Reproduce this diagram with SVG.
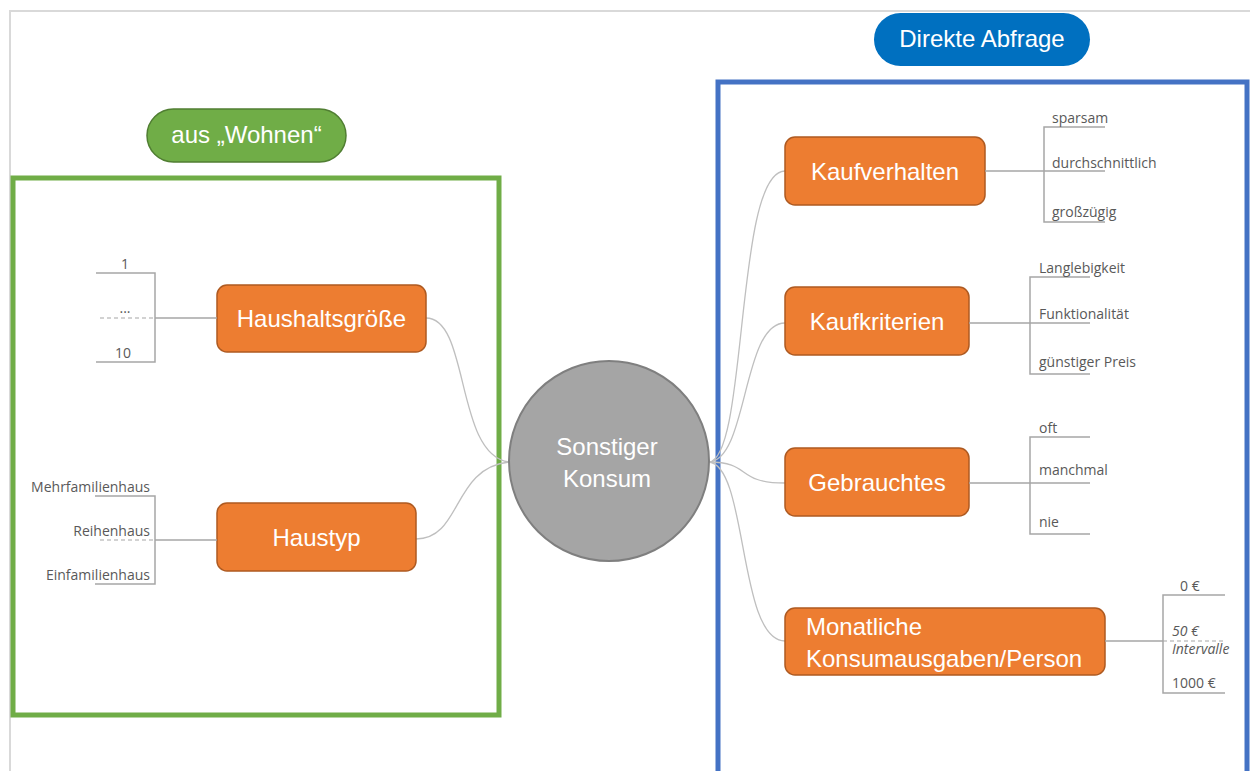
<svg xmlns="http://www.w3.org/2000/svg" width="1250" height="771" viewBox="0 0 1250 771">
<style>
.node rect{fill:#ed7d31;stroke:#ae5a21;stroke-width:1.5}
.nt{font-family:"Liberation Sans",Arial,sans-serif;font-size:24px;fill:#ffffff}
.lb{font-family:"Open Sans","Liberation Sans",sans-serif;font-size:14px;fill:#595959}
.br{stroke:#a6a6a6;stroke-width:1.5;fill:none}
.dash{stroke:#a6a6a6;stroke-width:1.2;stroke-dasharray:4 3;fill:none}
.con path{stroke:#bfbfbf;stroke-width:1.3;fill:none}
</style>
<rect width="1250" height="771" fill="#ffffff"/>
<path d="M10,771 L10,11 L1250,11" fill="none" stroke="#d9d9d9" stroke-width="2"/>
<rect x="13" y="178" width="486" height="537" fill="none" stroke="#70ad47" stroke-width="5"/>
<rect x="718" y="82" width="529" height="700" fill="none" stroke="#4472c4" stroke-width="5"/>

<g id="pill-wohnen">
<rect x="147" y="109" width="199" height="53" rx="26.5" fill="#70ad47" stroke="#507e32" stroke-width="1.5"/>
<text class="nt" x="246.5" y="143" text-anchor="middle" font-size="22">aus „Wohnen“</text>
</g>
<g id="pill-direkt">
<rect x="874" y="13" width="216" height="53" rx="26.5" fill="#0070c0"/>
<text class="nt" x="982" y="47" text-anchor="middle" font-size="22">Direkte Abfrage</text>
</g>

<g class="con" id="connectors">
<path d="M426,318 C470,318 455,455 509,462"/>
<path d="M416,539 C462,539 452,468 509,462"/>
<path d="M709,462 C748,458 735,171 785,171"/>
<path d="M709,462 C748,460 742,323 785,323"/>
<path d="M709,462 C752,462 735,483 785,483"/>
<path d="M709,462 C748,466 738,641 785,641"/>
</g>

<g id="center">
<circle cx="609" cy="461" r="100" fill="#a5a5a5" stroke="#7f7f7f" stroke-width="2"/>
<text class="nt" x="607" y="455" text-anchor="middle">Sonstiger</text>
<text class="nt" x="607" y="487" text-anchor="middle">Konsum</text>
</g>

<g class="node" id="haushaltsgroesse">
<rect x="217" y="285" width="209" height="67" rx="10"/>
<text class="nt" x="321.5" y="327" text-anchor="middle">Haushaltsgröße</text>
</g>
<g class="node" id="haustyp">
<rect x="217" y="503" width="199" height="68" rx="10"/>
<text class="nt" x="316.5" y="546" text-anchor="middle">Haustyp</text>
</g>
<g class="node" id="kaufverhalten">
<rect x="785" y="137" width="200" height="68" rx="10"/>
<text class="nt" x="885" y="180" text-anchor="middle" font-size="25">Kaufverhalten</text>
</g>
<g class="node" id="kaufkriterien">
<rect x="785" y="287" width="184" height="68" rx="10"/>
<text class="nt" x="877" y="330" text-anchor="middle" font-size="25">Kaufkriterien</text>
</g>
<g class="node" id="gebrauchtes">
<rect x="785" y="448" width="184" height="68" rx="10"/>
<text class="nt" x="877" y="491" text-anchor="middle" font-size="25">Gebrauchtes</text>
</g>
<g class="node" id="monatliche">
<rect x="785" y="608" width="320" height="67" rx="10"/>
<text class="nt" x="806" y="635" font-size="25">Monatliche</text>
<text class="nt" x="806" y="667" font-size="25">Konsumausgaben/Person</text>
</g>

<g id="opts-haushalt">
<path class="br" d="M96,273 H155 V362 H96 M155,318 H217"/>
<path class="dash" d="M100,318 H155"/>
<text class="lb" x="125" y="269" text-anchor="middle">1</text>
<text class="lb" x="125" y="313" text-anchor="middle">...</text>
<text class="lb" x="123" y="358" text-anchor="middle">10</text>
</g>
<g id="opts-haustyp">
<path class="br" d="M95,496 H155 V584 H95 M155,540 H217"/>
<path class="dash" d="M100,540 H155"/>
<text class="lb" x="150" y="492" text-anchor="end">Mehrfamilienhaus</text>
<text class="lb" x="150" y="536" text-anchor="end">Reihenhaus</text>
<text class="lb" x="150" y="580" text-anchor="end">Einfamilienhaus</text>
</g>
<g id="opts-kaufverhalten">
<path class="br" d="M1105,127 H1044 V222 H1105 M985,171 H1105"/>
<text class="lb" x="1052" y="123">sparsam</text>
<text class="lb" x="1052" y="168">durchschnittlich</text>
<text class="lb" x="1052" y="217">großzügig</text>
</g>
<g id="opts-kaufkriterien">
<path class="br" d="M1090,277 H1030 V374 H1090 M969,323 H1090"/>
<text class="lb" x="1039" y="273">Langlebigkeit</text>
<text class="lb" x="1039" y="319">Funktionalität</text>
<text class="lb" x="1039" y="367">günstiger Preis</text>
</g>
<g id="opts-gebrauchtes">
<path class="br" d="M1090,437 H1030 V534 H1090 M969,483 H1090"/>
<text class="lb" x="1039" y="433">oft</text>
<text class="lb" x="1039" y="475">manchmal</text>
<text class="lb" x="1039" y="527">nie</text>
</g>
<g id="opts-monatliche">
<path class="br" d="M1225,595 H1163 V693 H1225 M1105,641 H1163"/>
<path class="dash" d="M1163,641 H1225"/>
<text class="lb" x="1180" y="591">0 €</text>
<text class="lb" x="1172" y="636" font-style="italic">50 €</text>
<text class="lb" x="1172" y="654" font-style="italic">Intervalle</text>
<text class="lb" x="1172" y="688">1000 €</text>
</g>
</svg>
